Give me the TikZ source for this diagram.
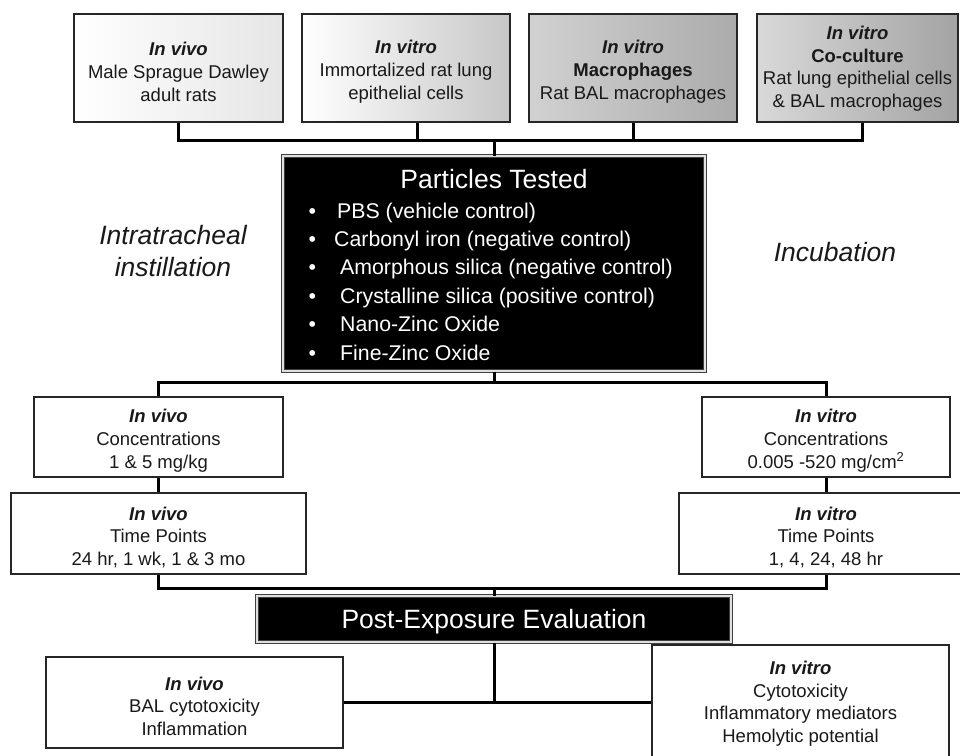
\documentclass[tikz,border=0pt]{standalone}
\usepackage{fontspec}
\setmainfont{Liberation Sans}
\usetikzlibrary{calc}
\newcommand{\myvivo}{\rule{0pt}{21pt}\textbf{\textit{In vivo}}}
\newcommand{\myvitro}{\rule{0pt}{21pt}\textbf{\textit{In vitro}}}
\newcommand{\myvitroplain}{\textbf{\textit{In vitro}}}
\begin{document}
\begin{tikzpicture}[x=1pt,y=-1pt,
  conn/.style={line width=3pt, line join=miter, draw=black},
  box/.style={draw=black!85, line width=1.6pt, inner sep=0pt, align=center,
    font=\fontsize{18.5}{22.6}\selectfont, text=black!90},
  blk/.style={fill=black, draw=black!75, double=black!12, double distance=1.2pt,
    line width=1pt, inner sep=0pt, text=white},
  item/.style={anchor=base west, inner sep=0pt, text=white, font=\fontsize{21.3}{25}\selectfont},
  side/.style={align=center, inner sep=0pt, font=\fontsize{26.5}{32}\selectfont\itshape, text=black!90}]
\clip (0,0) rectangle (960,755);
\useasboundingbox (0,0) rectangle (960,755);
\fill[white] (0,0) rectangle (960,755);

% top boxes
\node[box, left color=white, right color=black!10, minimum width=209, minimum height=108] (b1) at (178.5,68)
  {\myvivo\\Male Sprague Dawley\\adult rats};
\node[box, left color=white, right color=black!22, minimum width=208, minimum height=108] (b2) at (406,68)
  {\myvitro\\Immortalized rat lung\\epithelial cells};
\node[box, left color=black!18, right color=black!33, minimum width=208, minimum height=108] (b3) at (633,68)
  {\myvitro\\\textbf{Macrophages}\\Rat BAL macrophages};
\node[box, left color=black!15, right color=black!36, minimum width=201, minimum height=108] (b4) at (857.5,68)
  {\rule{0pt}{15pt}\myvitroplain\\\textbf{Co-culture}\\Rat lung epithelial cells\\\& BAL macrophages};

% particles box
\node[blk, minimum width=422, minimum height=215] (pt) at (494,263.5) {};
\node[inner sep=0pt, text=white, font=\fontsize{26.5}{30}\selectfont] (ptt) at (494,179) {Particles Tested};
\node[item] (i1) at (308.3,218.5) {\makebox[28.7pt][l]{\textbullet}PBS (vehicle control)};
\node[item] (i2) at (308.3,246.5) {\makebox[25.7pt][l]{\textbullet}Carbonyl iron (negative control)};
\node[item] (i3) at (308.3,274.5) {\makebox[31.7pt][l]{\textbullet}Amorphous silica (negative control)};
\node[item] (i4) at (308.3,303) {\makebox[31.7pt][l]{\textbullet}Crystalline silica (positive control)};
\node[item] (i5) at (308.3,331) {\makebox[31.7pt][l]{\textbullet}Nano-Zinc Oxide};
\node[item] (i6) at (308.3,360) {\makebox[31.7pt][l]{\textbullet}Fine-Zinc Oxide};

% side labels
\node[side] (it) at (173,251) {Intratracheal\\instillation};
\node[side] (inc) at (835,252) {Incubation};

% middle boxes
\node[box, minimum width=249, minimum height=80] (lc) at (158.5,437)
  {\myvivo\\Concentrations\\1 \& 5 mg/kg};
\node[box, minimum width=295, minimum height=81] (lt) at (158.5,533.5)
  {\myvivo\\Time Points\\24 hr, 1 wk, 1 \& 3 mo};
\node[box, minimum width=248, minimum height=80] (rc) at (826,437)
  {\myvitro\\Concentrations\\0.005 -520 mg/cm\textsuperscript{2}};
\node[box, minimum width=294, minimum height=81] (rt) at (826,533.5)
  {\myvitro\\Time Points\\1, 4, 24, 48 hr};

% post-exposure
\node[blk, minimum width=474, minimum height=46, font=\fontsize{26.5}{30}\selectfont] (pe) at (494,619)
  {\rule{0pt}{25pt}Post-Exposure Evaluation};

% bottom boxes
\node[box, minimum width=297, minimum height=91] (le) at (194.5,702.5)
  {\myvivo\\BAL cytotoxicity\\Inflammation};
\node[box, minimum width=297, minimum height=114] (re) at (800.5,702)
  {\rule{0pt}{17pt}\myvitroplain\\Cytotoxicity\\Inflammatory mediators\\Hemolytic potential};

% connectors
\coordinate (bus1) at (494,140);
\coordinate (bus2) at (494,382);
\coordinate (bus3) at (494,588);
\coordinate (t2) at ([xshift=11pt]b2.south);
\coordinate (t4) at ([xshift=4.5pt]b4.south);
\draw[conn] (b1.south) -- (b1.south |- bus1) -- (t4 |- bus1) -- (t4);
\draw[conn] (t2) -- (t2 |- bus1);
\draw[conn] (b3.south) -- (b3.south |- bus1);
\draw[conn] (bus1) -- (pt.north);
\draw[conn] (pt.south) -- (bus2);
\draw[conn] (lc.north) -- (lc.north |- bus2) -- (rc.north |- bus2) -- (rc.north);
\draw[conn] (lc.south) -- (lt.north);
\draw[conn] (rc.south) -- (rt.north);
\draw[conn] (lt.south) -- (lt.south |- bus3) -- (rt.south |- bus3) -- (rt.south);
\draw[conn] (bus3) -- (pe.north);
\draw[conn] (le.east) -- (re.west |- le.east);
\draw[conn] (pe.south) -- (pe.south |- le.east);
\end{tikzpicture}
\end{document}
